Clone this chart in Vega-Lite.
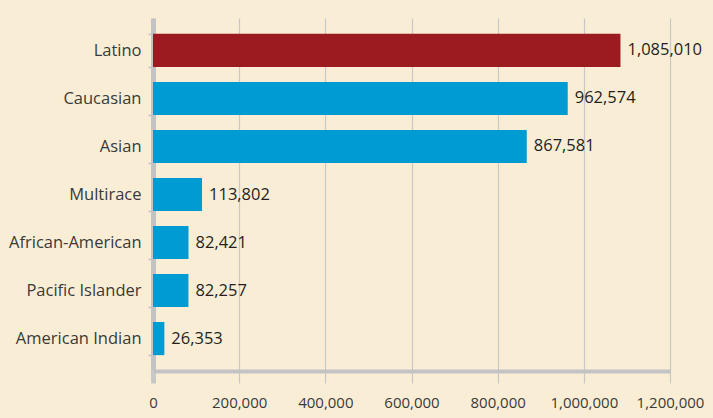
{
  "$schema": "https://vega.github.io/schema/vega-lite/v6.json",
  "autosize": {"type": "none"},
  "padding": {"left": 153, "top": 18, "right": 43, "bottom": 47},
  "width": 517,
  "height": 353,
  "background": "#f9eed5",
  "view": {"stroke": null},
  "data": {
    "values": [
      {"group": "Latino", "population": 1085010, "highlight": "yes"},
      {"group": "Caucasian", "population": 962574, "highlight": "no"},
      {"group": "Asian", "population": 867581, "highlight": "no"},
      {"group": "Multirace", "population": 113802, "highlight": "no"},
      {"group": "African-American", "population": 82421, "highlight": "no"},
      {"group": "Pacific Islander", "population": 82257, "highlight": "no"},
      {"group": "American Indian", "population": 26353, "highlight": "no"}
    ]
  },
  "encoding": {
    "y": {
      "field": "group",
      "type": "nominal",
      "sort": null,
      "scale": {"paddingInner": 0.31, "paddingOuter": 0.33},
      "axis": {
        "title": null,
        "domainColor": "#c3c3c3",
        "domainWidth": 5,
        "tickBand": "extent",
        "tickSize": 5,
        "tickWidth": 1.5,
        "tickColor": "#c3c3c3",
        "labelPadding": 7,
        "labelFont": "Open Sans",
        "labelFontSize": 16.5,
        "labelColor": "#3a3a3a"
      }
    },
    "x": {
      "field": "population",
      "type": "quantitative",
      "scale": {"domain": [0, 1200000], "nice": false},
      "axis": {
        "title": null,
        "values": [0, 200000, 400000, 600000, 800000, 1000000, 1200000],
        "labelExpr": "format(datum.value, ',')",
        "grid": true,
        "gridColor": "#c8c8c8",
        "gridWidth": 1.2,
        "domainColor": "#c3c3c3",
        "domainWidth": 4,
        "tickSize": 12,
        "tickColor": "#c8c8c8",
        "tickWidth": {"condition": {"test": "datum.value === 0", "value": 5}, "value": 1.2},
        "labelPadding": 12,
        "labelFont": "Open Sans",
        "labelFontSize": 15,
        "labelColor": "#3a3a3a",
        "labelFlush": false
      }
    }
  },
  "layer": [
    {
      "mark": {"type": "bar"},
      "encoding": {
        "color": {
          "field": "highlight",
          "type": "nominal",
          "scale": {"domain": ["yes", "no"], "range": ["#9c1b20", "#009bd2"]},
          "legend": null
        }
      }
    },
    {
      "mark": {"type": "text", "align": "left", "baseline": "middle", "dx": 7, "font": "Open Sans", "fontSize": 16.5, "color": "#231f20"},
      "encoding": {
        "text": {"field": "population", "type": "quantitative", "format": ","}
      }
    }
  ]
}
